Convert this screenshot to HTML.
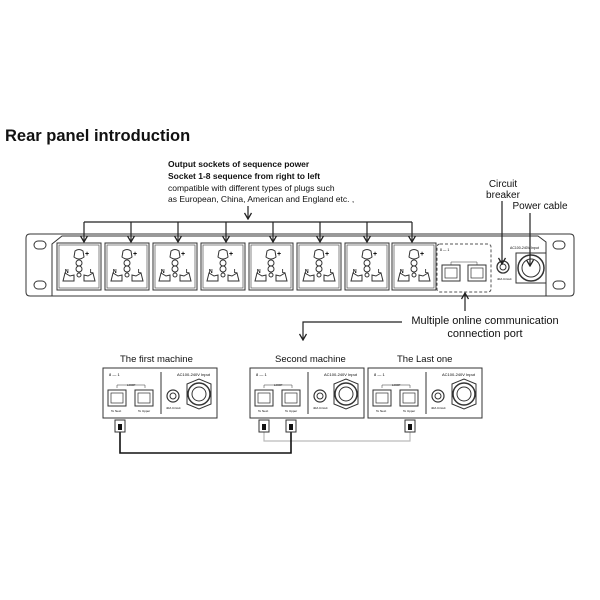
<!DOCTYPE html><html><head><style>body{margin:0;background:#fff}svg{display:block}text{font-family:"Liberation Sans",sans-serif}</style></head><body>
<svg width="600" height="600" viewBox="0 0 600 600">
<defs>
<marker id="a" markerWidth="8" markerHeight="8" refX="7" refY="4" orient="auto" markerUnits="userSpaceOnUse"><path d="M1,0.5 L7,4 L1,7.5" fill="none" stroke="#222" stroke-width="1.3"/></marker>
<g id="sock"><rect x="0" y="0" width="44" height="47" fill="#fff" stroke="#333" stroke-width="1"/><rect x="2" y="2" width="40" height="43" fill="none" stroke="#555" stroke-width="0.7"/>
<path d="M18,8 q4,-3 8,0 l1,6 q-5,4 -10,0z" fill="none" stroke="#333"/><circle cx="22" cy="20" r="3" fill="none" stroke="#333"/><circle cx="22" cy="26" r="3" fill="none" stroke="#333"/><circle cx="22" cy="32" r="2" fill="none" stroke="#333"/>
<path d="M6,38 l2,-8 l5,3 l4,-1 l0,6z" fill="none" stroke="#333"/><path d="M38,38 l-2,-8 l-5,3 l-4,-1 l0,6z" fill="none" stroke="#333"/>
<text x="28" y="13" font-size="7" font-weight="bold">+</text><text x="8" y="30" font-size="5" font-weight="bold">N</text><text x="33" y="30" font-size="5" font-weight="bold">L</text></g>
<g id="rj"><rect x="0" y="0" width="18" height="16" fill="#fff" stroke="#333"/><rect x="3" y="3" width="12" height="10" fill="none" stroke="#333" stroke-width="0.7"/></g>
<g id="mach"><rect x="0" y="0" width="114" height="50" fill="#fff" stroke="#333"/><text x="6" y="8" font-size="4">8 — 1</text><line x1="58" y1="4" x2="58" y2="46" stroke="#333"/><text x="74" y="8" font-size="4">AC100-240V Input</text>
<path d="M14,20 v-3 h28 v3" fill="none" stroke="#333" stroke-width="0.5"/><text x="24" y="18" font-size="3">LOOP</text>
<use href="#rj" x="5" y="22"/><use href="#rj" x="32" y="22"/><text x="8" y="44" font-size="3">To Next</text><text x="35" y="44" font-size="3">To Upper</text>
<circle cx="70" cy="28" r="6" fill="none" stroke="#333" stroke-width="1.2"/><circle cx="70" cy="28" r="3" fill="none" stroke="#333"/><text x="63" y="41" font-size="3">40A Circuit</text>
<path d="M84,16 l12,-5 l12,5 v20 l-12,5 l-12,-5z" fill="none" stroke="#333"/><circle cx="96" cy="26" r="11" fill="none" stroke="#333" stroke-width="1.5"/><circle cx="96" cy="26" r="7" fill="none" stroke="#333"/></g>
<g id="plug"><rect x="0" y="0" width="10" height="12" fill="#fff" stroke="#333"/><rect x="3" y="4" width="4" height="6" fill="#111"/></g>
</defs>
<text x="5" y="141" font-size="16.5" font-weight="bold" fill="#111">Rear panel introduction</text>
<text font-size="8.5" fill="#111"><tspan x="168" y="167" font-weight="bold">Output sockets of sequence power</tspan><tspan x="168" y="179" font-weight="bold">Socket 1-8  sequence from right to left</tspan><tspan x="168" y="191">compatible with different types of plugs such</tspan><tspan x="168" y="202">as European, China, American and England etc. ,</tspan></text>
<line x1="248" y1="206" x2="248" y2="219" stroke="#222" stroke-width="1.2" marker-end="url(#a)"/>
<path d="M30,234 H570 q4,0 4,4 V292 q0,4 -4,4 H30 q-4,0 -4,-4 V238 q0,-4 4,-4z" fill="#fff" stroke="#333"/>
<rect x="34" y="241" width="12" height="8" rx="4" fill="none" stroke="#333"/><rect x="34" y="281" width="12" height="8" rx="4" fill="none" stroke="#333"/>
<rect x="553" y="241" width="12" height="8" rx="4" fill="none" stroke="#333"/><rect x="553" y="281" width="12" height="8" rx="4" fill="none" stroke="#333"/>
<path d="M52,296 V244 L62,236 H538 L546,242 V296" fill="none" stroke="#333"/>
<use href="#sock" x="57" y="243"/><use href="#sock" x="105" y="243"/><use href="#sock" x="153" y="243"/><use href="#sock" x="201" y="243"/><use href="#sock" x="249" y="243"/><use href="#sock" x="297" y="243"/><use href="#sock" x="345" y="243"/><use href="#sock" x="392" y="243"/>
<polyline points="84,222 412,222" fill="none" stroke="#222" stroke-width="1.2"/>
<g stroke="#222" stroke-width="1.2" marker-end="url(#a)"><line x1="84" y1="222" x2="84" y2="242"/><line x1="131" y1="222" x2="131" y2="242"/><line x1="178" y1="222" x2="178" y2="242"/><line x1="226" y1="222" x2="226" y2="242"/><line x1="273" y1="222" x2="273" y2="242"/><line x1="320" y1="222" x2="320" y2="242"/><line x1="367" y1="222" x2="367" y2="242"/><line x1="412" y1="222" x2="412" y2="242"/></g>
<rect x="437" y="244" width="54" height="48" rx="3" fill="none" stroke="#555" stroke-dasharray="3,2"/><text x="440" y="251" font-size="3.5">8 — 1</text>
<use href="#rj" x="442" y="265"/><use href="#rj" x="468" y="265"/>
<path d="M451,265 v-3 h26 v3" fill="none" stroke="#333" stroke-width="0.5"/>
<circle cx="503" cy="267" r="6" fill="none" stroke="#333" stroke-width="1.3"/><circle cx="503" cy="267" r="3" fill="none" stroke="#333"/><text x="497" y="280" font-size="3">40A Circuit</text>
<text x="510" y="249" font-size="3.5">AC100-240V Input</text>
<rect x="516" y="253" width="30" height="30" fill="none" stroke="#333"/><circle cx="531" cy="268" r="13" fill="none" stroke="#333" stroke-width="1.5"/><circle cx="531" cy="268" r="9" fill="none" stroke="#333"/>
<text font-size="10" fill="#111" text-anchor="middle"><tspan x="503" y="187">Circuit</tspan><tspan x="503" y="198">breaker</tspan></text>
<line x1="502" y1="201" x2="502" y2="264" stroke="#222" stroke-width="1.2" marker-end="url(#a)"/>
<text x="540" y="209" font-size="10" fill="#111" text-anchor="middle">Power cable</text>
<line x1="530" y1="213" x2="530" y2="266" stroke="#222" stroke-width="1.2" marker-end="url(#a)"/>
<line x1="465" y1="311" x2="465" y2="293" stroke="#222" stroke-width="1.2" marker-end="url(#a)"/>
<text font-size="11" fill="#111" text-anchor="middle"><tspan x="485" y="324">Multiple online communication</tspan><tspan x="485" y="337">connection port</tspan></text>
<polyline points="402,322 303,322 303,340" fill="none" stroke="#222" stroke-width="1.2" marker-end="url(#a)"/>
<text font-size="9.5" fill="#111"><tspan x="120" y="362">The first machine</tspan><tspan x="275" y="362">Second machine</tspan><tspan x="397" y="362">The Last one</tspan></text>
<use href="#mach" x="103" y="368"/><use href="#mach" x="250" y="368"/><use href="#mach" x="368" y="368"/>
<polyline points="264,432 264,441 410,441 410,432" fill="none" stroke="#bbb" stroke-width="1.2"/>
<polyline points="120,432 120,453 291,453 291,432" fill="none" stroke="#111" stroke-width="1.6"/>
<use href="#plug" x="115" y="420"/><use href="#plug" x="259" y="420"/><use href="#plug" x="286" y="420"/><use href="#plug" x="405" y="420"/>
</svg></body></html>
